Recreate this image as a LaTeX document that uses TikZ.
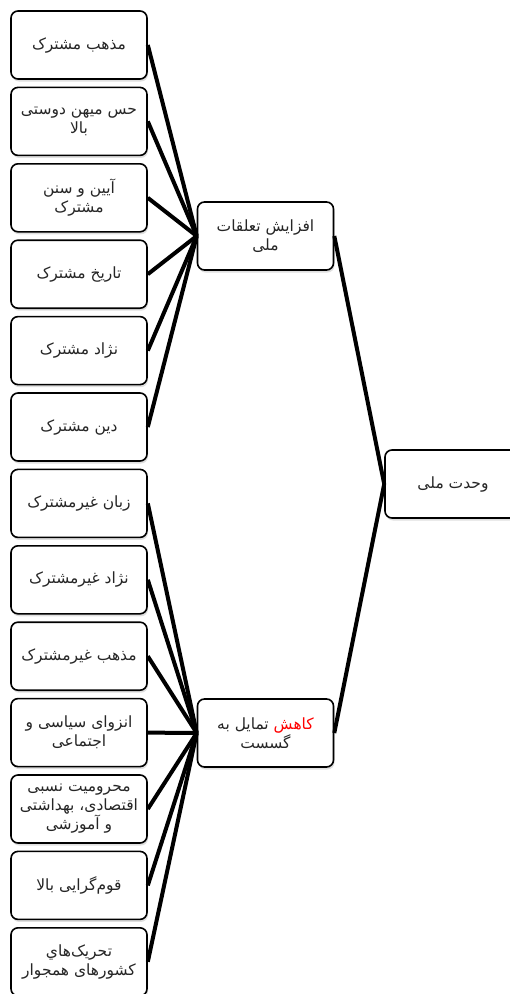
\documentclass[tikz,border=0pt]{standalone}
\usepackage{fontspec}
\newfontfamily\farsi[Script=Arabic]{DejaVu Sans}
\TeXXeTstate=1
\usetikzlibrary{shadows}
\usetikzlibrary{positioning}
\newcommand{\fatext}[1]{\beginR #1\endR}
\tikzstyle{factor}=[rectangle,rounded corners=7pt,draw=black,line width=1.6pt,fill=white,minimum width=136pt,minimum height=68pt,inner sep=1pt,align=center,text=black!85,font=\farsi\fontsize{15.5}{19}\selectfont,drop shadow={shadow xshift=1pt,shadow yshift=-2.5pt,opacity=0.25}]
\tikzstyle{link} = [draw,line width=4pt]

\begin{document}
\begin{tikzpicture}[x=1pt,y=-1pt]
    \useasboundingbox (0,0) rectangle (510,994);

    % common ties (upper column)
    \foreach \y/\name/\txt in {45/m1/{\fatext{مذهب مشترک}}, 121.4/m2/{\fatext{حس میهن دوستی}\\\fatext{بالا}}, 197.8/m3/{\fatext{آیین و سنن}\\\fatext{مشترک}}, 274.2/m4/{\fatext{تاریخ مشترک}}, 350.6/m5/{\fatext{نژاد مشترک}}, 427/m6/{\fatext{دین مشترک}}}
        \node[factor] (\name) at (79,\y) {\txt};

    % divisive factors (lower column)
    \foreach \y/\name/\txt in {503.4/g1/{\fatext{زبان غیرمشترک}}, 579.8/g2/{\fatext{نژاد غیرمشترک}}, 656.2/g3/{\fatext{مذهب غیرمشترک}}, 732.6/g4/{\fatext{انزوای سیاسی و}\\\fatext{اجتماعی}}, 809/g5/{\fatext{محرومیت نسبی}\\\fatext{اقتصادی، بهداشتی}\\\fatext{و آموزشی}}, 885.4/g6/{\fatext{قوم‌گرایی بالا}}, 961.8/g7/{\fatext{تحریک‌هاي}\\\fatext{کشورهای همجوار}}}
        \node[factor] (\name) at (79,\y) {\txt};

    % middle and final boxes
    \node[factor] (up) at (265.5,236) {\fatext{افزایش تعلقات}\\\fatext{ملی}};
    \node[factor] (down) at (265.5,733) {\fatext{تمایل به}\ {\color{red}\fatext{کاهش}}\\\fatext{گسست}};
    \node[factor] (unity) at (453,484) {\fatext{وحدت ملی}};

    % Connect boxes
    \foreach \name in {m1,m2,m3,m4,m5,m6}
        \path[link] (\name.east) -- (up.west);
    \foreach \name in {g1,g2,g3,g4,g5,g6,g7}
        \path[link] (\name.east) -- (down.west);
    \path[link] (up.east) -- (unity.west);
    \path[link] (down.east) -- (unity.west);

\end{tikzpicture}
\end{document}
